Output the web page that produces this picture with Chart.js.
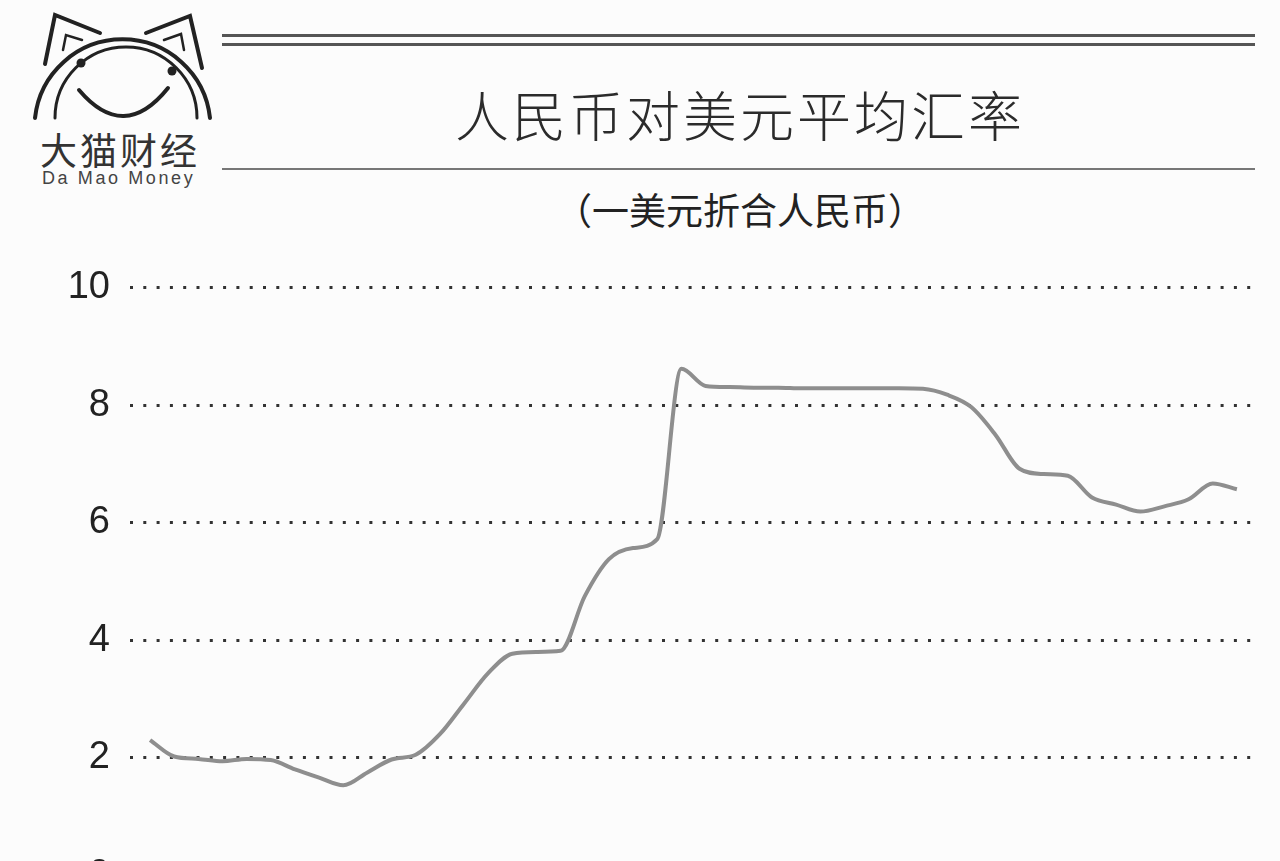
<!DOCTYPE html>
<html>
<head>
<meta charset="utf-8">
<title>人民币对美元平均汇率</title>
<script src="https://cdn.jsdelivr.net/npm/chart.js@4/dist/chart.umd.min.js"></script>
<style>
html, body { margin: 0; padding: 0; background: #fcfcfc; width: 1280px; height: 861px; overflow: hidden; }
.rule { position: absolute; left: 222px; width: 1033px; background: #555; }
#title { position: absolute; left: 430px; width: 620px; top: 74px; text-align: center;
  font-family: "Noto Sans CJK SC", sans-serif; font-weight: 300; font-size: 54px; color: #2b2b2b; letter-spacing: 3px; }
#subtitle { position: absolute; left: 400px; width: 680px; top: 182px; text-align: center;
  font-family: "Noto Sans CJK SC", sans-serif; font-weight: 400; font-size: 37px; color: #222; }
#brand { position: absolute; left: 40px; top: 122px; font-family: "Noto Sans CJK SC", sans-serif;
  font-size: 37px; color: #333; letter-spacing: 3px; }
#brand-en { position: absolute; left: 42px; top: 168px; font-family: "Liberation Sans", sans-serif;
  font-size: 18px; color: #444; letter-spacing: 2.6px; }
#box { position: absolute; left: 0; top: 245px; width: 1270px; height: 673px; }
</style>
</head>
<body>
<svg style="position:absolute;left:0;top:0" width="230" height="130">
  <g fill="none" stroke="#222" stroke-width="4" stroke-linecap="round">
    <path d="M 35 118 A 88 88 0 0 1 210 118"/>
    <path d="M 55 118 A 71 71 0 0 1 197 118" stroke-width="3"/>
    <path d="M 45 64 L 55 15 L 100 33"/>
    <path d="M 146 33 L 190 16 L 202 68"/>
    <path d="M 63 50 L 66 35 L 82 40" stroke-width="2.5"/>
    <path d="M 164 40 L 181 34 L 184 50" stroke-width="2.5"/>
    <path d="M 79 90 Q 124 143 168 88"/>
  </g>
  <circle cx="81" cy="63" r="4.5" fill="#222"/>
  <circle cx="172" cy="71" r="4.5" fill="#222"/>
</svg>
<div id="brand">大猫财经</div>
<div id="brand-en">Da Mao Money</div>
<div class="rule" style="top:34px;height:3px"></div>
<div class="rule" style="top:43px;height:3px"></div>
<div class="rule" style="top:168px;height:2px;background:#777"></div>
<div id="title">人民币对美元平均汇率</div>
<div id="subtitle">（一美元折合人民币）</div>
<div id="box"><canvas id="rateChart"></canvas></div>
<script>
// yearly average, 1972 - 2017
var years = [];
for (var y = 1972; y <= 2017; y++) years.push(y);

var rates = [
	2.30, 2.02, 1.98, 1.94, 1.98, 1.96, 1.80, 1.66, 1.53, 1.75,
	1.97, 2.05, 2.40, 2.92, 3.44, 3.77, 3.80, 3.82, 4.75, 5.38,
	5.57, 5.72, 8.62, 8.33, 8.31, 8.30, 8.30, 8.29, 8.29, 8.29,
	8.29, 8.29, 8.28, 8.18, 7.97, 7.50, 6.92, 6.83, 6.80, 6.43,
	6.31, 6.19, 6.28, 6.40, 6.67, 6.57
];

var yTicks = [0, 2, 4, 6, 8, 10];

var points = years.map(function (yr, i) { return { x: yr, y: rates[i] }; });

var ctx = document.getElementById("rateChart").getContext("2d");

new Chart(ctx, {
	type: "line",
	data: {
		datasets: [{
			data: points,
			borderColor: "#8e8e8e",
			borderWidth: 4,
			pointRadius: 0,
			cubicInterpolationMode: "monotone",
			fill: false
		}]
	},
	options: {
		responsive: true,
		maintainAspectRatio: false,
		animation: false,
		layout: { padding: { top: 16, bottom: 16, left: 0, right: 15 } },
		plugins: { legend: { display: false }, tooltip: { enabled: false } },
		scales: {
			x: { type: "linear", display: false, min: 1971.17, max: 2017.75 },
			y: {
				min: yTicks[0],
				max: yTicks[yTicks.length - 1],
				afterBuildTicks: function (scale) {
					scale.ticks = yTicks.map(function (v) { return { value: v }; });
				},
				afterFit: function (scale) { scale.width = 130; },
				ticks: {
					padding: 20,
					color: "#222",
					font: { family: "Liberation Sans", size: 38 }
				},
				grid: { color: "#333", lineWidth: 3, drawTicks: false },
				border: { display: false, dash: [3, 10.3] }
			}
		}
	}
});
</script>
</body>
</html>
